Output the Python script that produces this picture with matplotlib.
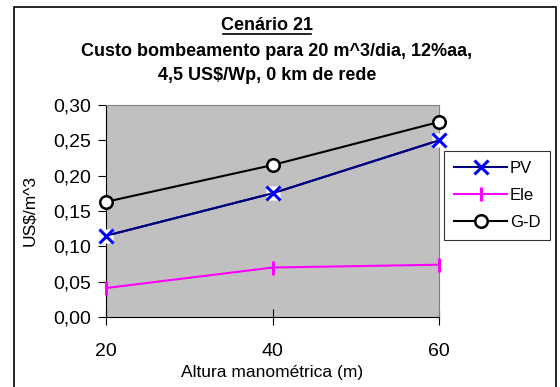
import matplotlib
matplotlib.use("Agg")
import matplotlib.pyplot as plt
from matplotlib.ticker import FuncFormatter, MultipleLocator
from matplotlib.patches import Rectangle
from matplotlib.lines import Line2D

plt.rcParams['font.family'] = ['Liberation Sans', 'DejaVu Sans']

altura = [20, 40, 60]
pv = [0.115, 0.175, 0.250]
ele = [0.041, 0.070, 0.074]
gd = [0.163, 0.215, 0.276]

fig = plt.figure(figsize=(5.6, 3.87), dpi=100)
ax = fig.add_axes([106/560, 1 - 317/387, (439-106)/560, (317-105)/387])
ax.set_facecolor('#C0C0C0')

ax.plot(altura, pv, color='#000080', lw=1.5, label='_nolegend_', zorder=3)
# fundo branco do marcador (estilo Excel)
ax.plot(altura, pv, ls='none', marker='s', ms=10, mfc='white', mec='none',
        clip_on=False, zorder=4)
ax.plot(altura, pv, color='#000080', lw=1.5, marker='x', ms=10, mew=2.2,
        mec='#0000FF', label='PV', clip_on=False, zorder=5)
ax.plot(altura, ele, color='#FF00FF', lw=1.5, marker='|', ms=10, mew=2.2,
        label='Ele', clip_on=False, zorder=3)
ax.plot(altura, gd, color='black', lw=1.5, marker='o', ms=9, mew=1.8,
        mfc='white', label='G-D', clip_on=False, zorder=3)

ax.set_xlim(20, 60)
ax.set_ylim(0, 0.30)
ax.set_xticks([20, 40, 60])
ax.yaxis.set_major_locator(MultipleLocator(0.05))
ax.yaxis.set_major_formatter(FuncFormatter(lambda v, p: f'{v:.2f}'.replace('.', ',')))
ax.tick_params(axis='x', direction='inout', length=12, labelsize=14, pad=13)
ax.tick_params(axis='y', direction='out', length=6, labelsize=14, pad=5)
for s in ['top', 'right']:
    ax.spines[s].set_color('#808080')
ax.set_xlabel('Altura manométrica (m)', fontsize=12.5, labelpad=3)
ax.set_ylabel('US$/m^3', fontsize=12.5, labelpad=11)

leg = ax.legend(loc='upper left', bbox_to_anchor=(444/560, 1 - 151/387),
                bbox_transform=fig.transFigure, fontsize=12, frameon=True,
                fancybox=False, edgecolor='black', handlelength=3.2,
                labelspacing=0.72, borderpad=0.6, handletextpad=0.15,
                borderaxespad=0)
leg.get_frame().set_linewidth(0.8)

# titulo
fig.text(267/560, 1 - 25/387, 'Cenário 21', ha='center', va='center',
         fontsize=13, fontweight='bold')
fig.add_artist(Line2D([223/560, 311/560], [1 - 33.5/387, 1 - 33.5/387],
                      color='black', lw=1.2))
fig.text(277/560, 1 - 51/387, 'Custo bombeamento para 20 m^3/dia, 12%aa,',
         ha='center', va='center', fontsize=13, fontweight='bold')
fig.text(267.5/560, 1 - 75/387, '4,5 US$/Wp, 0 km de rede',
         ha='center', va='center', fontsize=13, fontweight='bold')

# moldura
fig.add_artist(Rectangle((14/560, -10/387), (556-14)/560, (397-7)/387,
                         transform=fig.transFigure, fill=False,
                         edgecolor='black', lw=1.2))

fig.savefig('out.png', dpi=100)
